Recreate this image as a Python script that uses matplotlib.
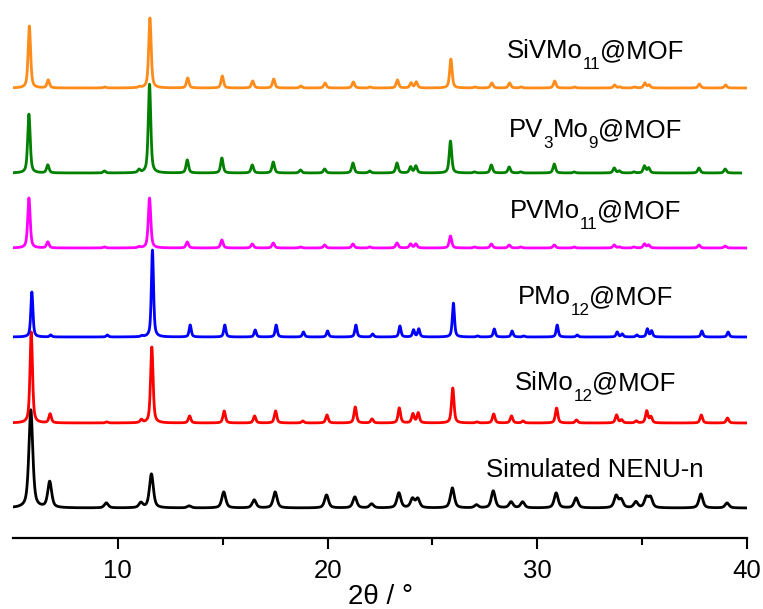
import numpy as np
import matplotlib.pyplot as plt
from matplotlib.transforms import IdentityTransform

plt.rcParams['font.family'] = ['Liberation Sans', 'DejaVu Sans']

# reflection positions (2theta, deg), common to all patterns
peak_pos = [5.85, 6.75, 9.45, 11.1, 11.6, 13.4, 15.05, 16.5, 17.5, 18.8,
            19.95, 21.3, 22.1, 23.4, 24.05, 24.3, 25.95, 27.1, 27.9, 28.75,
            29.3, 30.9, 31.85, 33.76, 34.0, 34.7, 35.2, 35.4, 37.8, 39.05]

# peak heights per sample (a.u.)
h_sim = [98, 26, 5, 5, 34, 2, 16, 8, 16, 0, 13, 11, 4, 15, 9, 9, 20, 3, 17, 6,
         6, 15, 10, 12, 8, 6, 10, 10, 14, 5]
h_simo12 = [91, 9, 1, 3, 76, 7, 12, 7, 12, 2, 8, 16, 4, 15, 9, 10, 35, 1, 9, 7,
            2, 15, 3, 8, 3, 2, 12, 6, 8, 5]
h_pmo12 = [45, 2, 2, 1, 87, 12, 12, 7, 12, 5, 6, 12, 3, 11, 7, 8, 34, 1, 8, 6,
           1, 12, 2, 5, 3, 2, 8, 6, 6, 5]
h_pvmo11 = [50, 6, 1, 1, 50, 6, 8, 4, 5, 1, 3, 4, 1, 5, 4, 4, 12, 1, 4, 3,
            1, 3, 1, 3, 1, 1, 4, 3, 3, 2]
h_pv3mo9 = [59, 8, 2, 3, 89, 13, 15, 8, 11, 3, 4, 10, 2, 10, 6, 7, 32, 1, 8, 6,
            1, 9, 1, 5, 2, 1, 7, 5, 5, 4]
h_sivmo11 = [62, 8, 1, 1, 70, 10, 12, 7, 9, 2, 5, 6, 1, 8, 5, 6, 29, 1, 5, 5,
             1, 7, 1, 3, 1, 1, 5, 3, 4, 3]

# sample names as (text, is_subscript) pieces
labels = [[('Simulated NENU-n', False)],
          [('SiMo', False), ('12', True), ('@MOF', False)],
          [('PMo', False), ('12', True), ('@MOF', False)],
          [('PVMo', False), ('11', True), ('@MOF', False)],
          [('PV', False), ('3', True), ('Mo', False), ('9', True), ('@MOF', False)],
          [('SiVMo', False), ('11', True), ('@MOF', False)]]
heights = [h_sim, h_simo12, h_pmo12, h_pvmo11, h_pv3mo9, h_sivmo11]
colors = ['black', '#ff0000', '#0000ff', '#ff00ff', '#008000', '#ff8c1a']
offsets = [30, 115, 201, 290, 365, 450]
shifts = [0.0, 0.02, 0.05, -0.09, -0.09, -0.07]
fwhm = [0.22, 0.14, 0.12, 0.14, 0.14, 0.14]
x_end = [39.95, 40.0, 40.0, 40.0, 39.7, 40.0]
label_y = [61, 148, 234, 320, 401, 480]


def pattern(x, pos, h, w, shift):
    # pseudo-Voigt profile sum
    y = np.zeros_like(x)
    g = w / 2.3548
    for p, a in zip(pos, h):
        d = x - (p + shift)
        lor = 1.0 / (1.0 + (2 * d / w) ** 2)
        gau = np.exp(-0.5 * (d / g) ** 2)
        y += a * (0.6 * lor + 0.4 * gau)
    return y


def sub_label(ax, x, y, pieces, size=18.5):
    # write text with dropped subscripts, centred on (x, y) in data coords
    fig = ax.figure
    r = fig.canvas.get_renderer()
    texts = []
    widths = []
    for s, is_sub in pieces:
        fs = size * 0.66 if is_sub else size
        t = fig.text(0, 0, s, fontsize=fs, transform=IdentityTransform(),
                     va='baseline', ha='left')
        widths.append(t.get_window_extent(r).width)
        texts.append((t, is_sub))
    x0, y0 = ax.transData.transform((x, y))
    cx = x0 - sum(widths) / 2
    for (t, is_sub), w in zip(texts, widths):
        dy = -size * 0.62 if is_sub else 0
        t.set_position((cx, y0 + dy))
        cx += w


fig = plt.figure(figsize=(7.63, 6.09), dpi=100)
ax = fig.add_axes([13 / 763, 71 / 609, 734 / 763, 538 / 609])
ax.set_xlim(5, 40)
ax.set_ylim(0, 538)
fig.canvas.draw()

for h, c, off, s, w, xe, lab, ly in zip(heights, colors, offsets, shifts, fwhm,
                                         x_end, labels, label_y):
    x = np.linspace(5.0, xe, 3500)
    ax.plot(x, pattern(x, peak_pos, h, w, s) + off, color=c, lw=2.0)
    sub_label(ax, 32.76, ly, lab)

ax.set_xticks([10, 20, 30, 40])
ax.set_xticks([15, 25, 35], minor=True)
ax.set_yticks([])
for side in ['top', 'right', 'left']:
    ax.spines[side].set_visible(False)
ax.spines['bottom'].set_linewidth(1.6)
ax.tick_params(axis='x', which='major', direction='out', length=8, width=1.5,
               labelsize=18.5, pad=7)
ax.tick_params(axis='x', which='minor', direction='out', length=5, width=1.5)
ax.set_xlabel('2θ / °', fontsize=20, labelpad=1)
ax.patch.set_alpha(0)

fig.savefig('out.png', dpi=100)
